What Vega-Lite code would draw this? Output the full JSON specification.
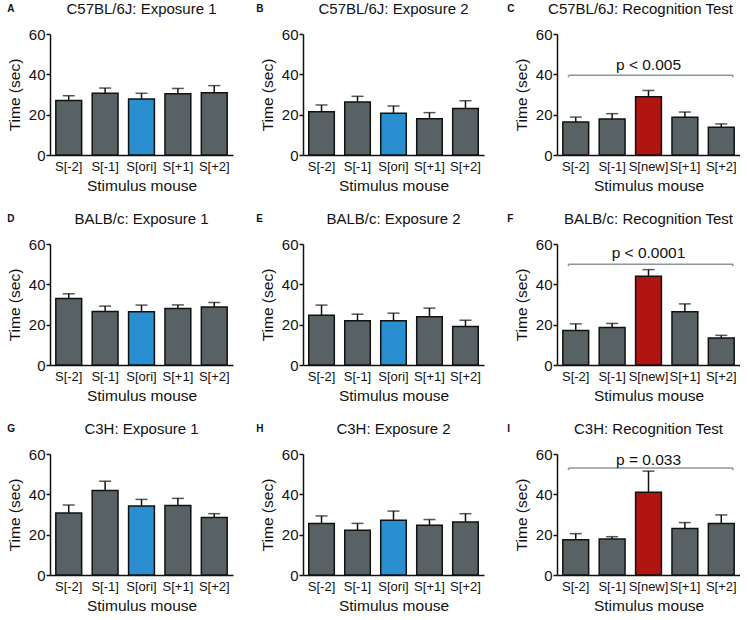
{
  "$schema": "https://vega.github.io/schema/vega-lite/v6.json",
  "padding": {"left": 7, "top": 2, "right": 0, "bottom": 0},
  "spacing": 18,
  "datasets": {
    "bars": [
      {"panel": "A", "stim": "S[-2]", "kind": "ctrl", "value": 27, "upper": 29.4},
      {"panel": "A", "stim": "S[-1]", "kind": "ctrl", "value": 30.6, "upper": 33.2},
      {"panel": "A", "stim": "S[ori]", "kind": "ori", "value": 27.8, "upper": 30.6},
      {"panel": "A", "stim": "S[+1]", "kind": "ctrl", "value": 30.4, "upper": 33},
      {"panel": "A", "stim": "S[+2]", "kind": "ctrl", "value": 30.9, "upper": 34.4},
      {"panel": "B", "stim": "S[-2]", "kind": "ctrl", "value": 21.5, "upper": 24.8},
      {"panel": "B", "stim": "S[-1]", "kind": "ctrl", "value": 26.3, "upper": 29.1},
      {"panel": "B", "stim": "S[ori]", "kind": "ori", "value": 20.7, "upper": 24.3},
      {"panel": "B", "stim": "S[+1]", "kind": "ctrl", "value": 18, "upper": 21},
      {"panel": "B", "stim": "S[+2]", "kind": "ctrl", "value": 23, "upper": 26.9},
      {"panel": "C", "stim": "S[-2]", "kind": "ctrl", "value": 16.4, "upper": 18.8},
      {"panel": "C", "stim": "S[-1]", "kind": "ctrl", "value": 17.9, "upper": 20.5},
      {"panel": "C", "stim": "S[new]", "kind": "new", "value": 28.9, "upper": 32},
      {"panel": "C", "stim": "S[+1]", "kind": "ctrl", "value": 18.7, "upper": 21.3},
      {"panel": "C", "stim": "S[+2]", "kind": "ctrl", "value": 13.7, "upper": 15.4},
      {"panel": "D", "stim": "S[-2]", "kind": "ctrl", "value": 33, "upper": 35.3},
      {"panel": "D", "stim": "S[-1]", "kind": "ctrl", "value": 26.5, "upper": 29.2},
      {"panel": "D", "stim": "S[ori]", "kind": "ori", "value": 26.4, "upper": 29.7},
      {"panel": "D", "stim": "S[+1]", "kind": "ctrl", "value": 28, "upper": 29.8},
      {"panel": "D", "stim": "S[+2]", "kind": "ctrl", "value": 28.7, "upper": 31},
      {"panel": "E", "stim": "S[-2]", "kind": "ctrl", "value": 24.7, "upper": 29.7},
      {"panel": "E", "stim": "S[-1]", "kind": "ctrl", "value": 21.9, "upper": 25.2},
      {"panel": "E", "stim": "S[ori]", "kind": "ori", "value": 21.9, "upper": 25.7},
      {"panel": "E", "stim": "S[+1]", "kind": "ctrl", "value": 23.9, "upper": 28.2},
      {"panel": "E", "stim": "S[+2]", "kind": "ctrl", "value": 19.1, "upper": 22.2},
      {"panel": "F", "stim": "S[-2]", "kind": "ctrl", "value": 17.1, "upper": 20.4},
      {"panel": "F", "stim": "S[-1]", "kind": "ctrl", "value": 18.6, "upper": 20.6},
      {"panel": "F", "stim": "S[new]", "kind": "new", "value": 44, "upper": 47.3},
      {"panel": "F", "stim": "S[+1]", "kind": "ctrl", "value": 26.4, "upper": 30.3},
      {"panel": "F", "stim": "S[+2]", "kind": "ctrl", "value": 13.4, "upper": 14.7},
      {"panel": "G", "stim": "S[-2]", "kind": "ctrl", "value": 30.8, "upper": 34.7},
      {"panel": "G", "stim": "S[-1]", "kind": "ctrl", "value": 41.9, "upper": 46.5},
      {"panel": "G", "stim": "S[ori]", "kind": "ori", "value": 34.2, "upper": 37.5},
      {"panel": "G", "stim": "S[+1]", "kind": "ctrl", "value": 34.5, "upper": 38},
      {"panel": "G", "stim": "S[+2]", "kind": "ctrl", "value": 28.5, "upper": 30.4},
      {"panel": "H", "stim": "S[-2]", "kind": "ctrl", "value": 25.5, "upper": 29.3},
      {"panel": "H", "stim": "S[-1]", "kind": "ctrl", "value": 22.2, "upper": 25.6},
      {"panel": "H", "stim": "S[ori]", "kind": "ori", "value": 27.1, "upper": 31.7},
      {"panel": "H", "stim": "S[+1]", "kind": "ctrl", "value": 24.7, "upper": 27.5},
      {"panel": "H", "stim": "S[+2]", "kind": "ctrl", "value": 26.3, "upper": 30.4},
      {"panel": "I", "stim": "S[-2]", "kind": "ctrl", "value": 17.5, "upper": 20.5},
      {"panel": "I", "stim": "S[-1]", "kind": "ctrl", "value": 17.8, "upper": 19},
      {"panel": "I", "stim": "S[new]", "kind": "new", "value": 41, "upper": 51.5},
      {"panel": "I", "stim": "S[+1]", "kind": "ctrl", "value": 23, "upper": 26},
      {"panel": "I", "stim": "S[+2]", "kind": "ctrl", "value": 25.5, "upper": 29.8}
    ],
    "brackets": [
      {"panel": "C", "from": "S[-2]", "to": "S[+2]", "mid": "S[new]", "y": 39.5, "ytick": 38.5, "ytext": 44.6, "label": "p < 0.005"},
      {"panel": "F", "from": "S[-2]", "to": "S[+2]", "mid": "S[new]", "y": 50, "ytick": 49, "ytext": 55.5, "label": "p < 0.0001"},
      {"panel": "I", "from": "S[-2]", "to": "S[+2]", "mid": "S[new]", "y": 53, "ytick": 52, "ytext": 57, "label": "p = 0.033"}
    ]
  },
  "config": {
    "font": "Liberation Sans",
    "view": {"stroke": null},
    "title": {"fontSize": 15, "fontWeight": "normal", "color": "#111", "offset": 10},
    "axis": {"domainColor": "#111", "domainWidth": 1.5, "tickColor": "#111", "labelColor": "#111", "titleColor": "#111", "grid": false, "titleFontWeight": "normal"},
    "axisX": {"ticks": false, "labelAngle": 0, "labelFontSize": 13, "labelPadding": 5, "titleFontSize": 15.5, "titlePadding": 5, "labelOverlap": false},
    "axisY": {"tickSize": 4, "tickWidth": 1.5, "labelFontSize": 15, "labelPadding": 1, "titleFontSize": 15.5, "titlePadding": 6},
    "scale": {"bandPaddingInner": 0.29, "bandPaddingOuter": 0.16},
    "concat": {"spacing": 23}
  },
  "vconcat": [
    {"hconcat": [
      {"title": {"text": "A", "anchor": "start", "fontSize": 10, "fontWeight": "bold", "offset": -12},
       "hconcat": [{"width": 183, "height": 121, "title": "C57BL/6J: Exposure 1",
        "data": {"name": "bars"}, "transform": [{"filter": "datum.panel === 'A'"}],
        "encoding": {"x": {"field": "stim", "type": "nominal", "scale": {"domain": ["S[-2]", "S[-1]", "S[ori]", "S[+1]", "S[+2]"]}, "title": "Stimulus mouse"}},
        "layer": [
          {"mark": {"type": "bar", "stroke": "#111", "strokeWidth": 1.5},
           "encoding": {"y": {"field": "value", "type": "quantitative", "scale": {"domain": [0, 60], "nice": false}, "axis": {"values": [0, 20, 40, 60]}, "title": "Time (sec)"},
            "color": {"field": "kind", "type": "nominal", "scale": {"domain": ["ctrl", "ori", "new"], "range": ["#586264", "#2a8fd0", "#b01512"]}, "legend": null}}},
          {"mark": {"type": "rule", "color": "#111", "strokeWidth": 1.5}, "encoding": {"y": {"field": "value", "type": "quantitative"}, "y2": {"field": "upper"}}},
          {"mark": {"type": "tick", "color": "#111", "thickness": 1.5, "size": 12}, "encoding": {"y": {"field": "upper", "type": "quantitative"}}}
        ]}]},
      {"title": {"text": "B", "anchor": "start", "fontSize": 10, "fontWeight": "bold", "offset": -12, "dx": -4},
       "hconcat": [{"width": 181, "height": 121, "title": "C57BL/6J: Exposure 2",
        "data": {"name": "bars"}, "transform": [{"filter": "datum.panel === 'B'"}],
        "encoding": {"x": {"field": "stim", "type": "nominal", "scale": {"domain": ["S[-2]", "S[-1]", "S[ori]", "S[+1]", "S[+2]"]}, "title": "Stimulus mouse"}},
        "layer": [
          {"mark": {"type": "bar", "stroke": "#111", "strokeWidth": 1.5},
           "encoding": {"y": {"field": "value", "type": "quantitative", "scale": {"domain": [0, 60], "nice": false}, "axis": {"values": [0, 20, 40, 60]}, "title": "Time (sec)"},
            "color": {"field": "kind", "type": "nominal", "scale": {"domain": ["ctrl", "ori", "new"], "range": ["#586264", "#2a8fd0", "#b01512"]}, "legend": null}}},
          {"mark": {"type": "rule", "color": "#111", "strokeWidth": 1.5}, "encoding": {"y": {"field": "value", "type": "quantitative"}, "y2": {"field": "upper"}}},
          {"mark": {"type": "tick", "color": "#111", "thickness": 1.5, "size": 12}, "encoding": {"y": {"field": "upper", "type": "quantitative"}}}
        ]}]},
      {"title": {"text": "C", "anchor": "start", "fontSize": 10, "fontWeight": "bold", "offset": -12, "dx": -7},
       "hconcat": [{"width": 183, "height": 121, "title": {"text": "C57BL/6J: Recognition Test", "dx": -8},
        "data": {"name": "bars"}, "transform": [{"filter": "datum.panel === 'C'"}],
        "encoding": {"x": {"field": "stim", "type": "nominal", "scale": {"domain": ["S[-2]", "S[-1]", "S[new]", "S[+1]", "S[+2]"]}, "title": "Stimulus mouse"}},
        "layer": [
          {"mark": {"type": "bar", "stroke": "#111", "strokeWidth": 1.5},
           "encoding": {"y": {"field": "value", "type": "quantitative", "scale": {"domain": [0, 60], "nice": false}, "axis": {"values": [0, 20, 40, 60]}, "title": "Time (sec)"},
            "color": {"field": "kind", "type": "nominal", "scale": {"domain": ["ctrl", "ori", "new"], "range": ["#586264", "#2a8fd0", "#b01512"]}, "legend": null}}},
          {"mark": {"type": "rule", "color": "#111", "strokeWidth": 1.5}, "encoding": {"y": {"field": "value", "type": "quantitative"}, "y2": {"field": "upper"}}},
          {"mark": {"type": "tick", "color": "#111", "thickness": 1.5, "size": 12}, "encoding": {"y": {"field": "upper", "type": "quantitative"}}},
          {"data": {"name": "brackets"}, "transform": [{"filter": "datum.panel === 'C'"}],
           "mark": {"type": "rule", "color": "#8c9898", "strokeWidth": 1.5},
           "encoding": {"x": {"field": "from", "type": "nominal", "bandPosition": 0.22, "scale": {"domain": ["S[-2]", "S[-1]", "S[new]", "S[+1]", "S[+2]"]}}, "x2": {"field": "to", "bandPosition": 0.95}, "y": {"field": "y", "type": "quantitative"}}},
          {"data": {"name": "brackets"}, "transform": [{"filter": "datum.panel === 'C'"}],
           "mark": {"type": "rule", "color": "#8c9898", "strokeWidth": 1.5},
           "encoding": {"x": {"field": "from", "type": "nominal", "bandPosition": 0.22, "scale": {"domain": ["S[-2]", "S[-1]", "S[new]", "S[+1]", "S[+2]"]}}, "y": {"field": "y", "type": "quantitative"}, "y2": {"field": "ytick"}}},
          {"data": {"name": "brackets"}, "transform": [{"filter": "datum.panel === 'C'"}],
           "mark": {"type": "rule", "color": "#8c9898", "strokeWidth": 1.5},
           "encoding": {"x": {"field": "to", "type": "nominal", "bandPosition": 0.95, "scale": {"domain": ["S[-2]", "S[-1]", "S[new]", "S[+1]", "S[+2]"]}}, "y": {"field": "y", "type": "quantitative"}, "y2": {"field": "ytick"}}},
          {"data": {"name": "brackets"}, "transform": [{"filter": "datum.panel === 'C'"}],
           "mark": {"type": "text", "fontSize": 15.5, "color": "#111", "baseline": "middle"},
           "encoding": {"x": {"field": "mid", "type": "nominal", "scale": {"domain": ["S[-2]", "S[-1]", "S[new]", "S[+1]", "S[+2]"]}}, "y": {"field": "ytext", "type": "quantitative"}, "text": {"field": "label"}}}
        ]}]}
    ]},
    {"hconcat": [
      {"title": {"text": "D", "anchor": "start", "fontSize": 10, "fontWeight": "bold", "offset": -12},
       "hconcat": [{"width": 183, "height": 121, "title": "BALB/c: Exposure 1",
        "data": {"name": "bars"}, "transform": [{"filter": "datum.panel === 'D'"}],
        "encoding": {"x": {"field": "stim", "type": "nominal", "scale": {"domain": ["S[-2]", "S[-1]", "S[ori]", "S[+1]", "S[+2]"]}, "title": "Stimulus mouse"}},
        "layer": [
          {"mark": {"type": "bar", "stroke": "#111", "strokeWidth": 1.5},
           "encoding": {"y": {"field": "value", "type": "quantitative", "scale": {"domain": [0, 60], "nice": false}, "axis": {"values": [0, 20, 40, 60]}, "title": "Time (sec)"},
            "color": {"field": "kind", "type": "nominal", "scale": {"domain": ["ctrl", "ori", "new"], "range": ["#586264", "#2a8fd0", "#b01512"]}, "legend": null}}},
          {"mark": {"type": "rule", "color": "#111", "strokeWidth": 1.5}, "encoding": {"y": {"field": "value", "type": "quantitative"}, "y2": {"field": "upper"}}},
          {"mark": {"type": "tick", "color": "#111", "thickness": 1.5, "size": 12}, "encoding": {"y": {"field": "upper", "type": "quantitative"}}}
        ]}]},
      {"title": {"text": "E", "anchor": "start", "fontSize": 10, "fontWeight": "bold", "offset": -12, "dx": -4},
       "hconcat": [{"width": 181, "height": 121, "title": "BALB/c: Exposure 2",
        "data": {"name": "bars"}, "transform": [{"filter": "datum.panel === 'E'"}],
        "encoding": {"x": {"field": "stim", "type": "nominal", "scale": {"domain": ["S[-2]", "S[-1]", "S[ori]", "S[+1]", "S[+2]"]}, "title": "Stimulus mouse"}},
        "layer": [
          {"mark": {"type": "bar", "stroke": "#111", "strokeWidth": 1.5},
           "encoding": {"y": {"field": "value", "type": "quantitative", "scale": {"domain": [0, 60], "nice": false}, "axis": {"values": [0, 20, 40, 60]}, "title": "Time (sec)"},
            "color": {"field": "kind", "type": "nominal", "scale": {"domain": ["ctrl", "ori", "new"], "range": ["#586264", "#2a8fd0", "#b01512"]}, "legend": null}}},
          {"mark": {"type": "rule", "color": "#111", "strokeWidth": 1.5}, "encoding": {"y": {"field": "value", "type": "quantitative"}, "y2": {"field": "upper"}}},
          {"mark": {"type": "tick", "color": "#111", "thickness": 1.5, "size": 12}, "encoding": {"y": {"field": "upper", "type": "quantitative"}}}
        ]}]},
      {"title": {"text": "F", "anchor": "start", "fontSize": 10, "fontWeight": "bold", "offset": -12, "dx": -7},
       "hconcat": [{"width": 183, "height": 121, "title": "BALB/c: Recognition Test",
        "data": {"name": "bars"}, "transform": [{"filter": "datum.panel === 'F'"}],
        "encoding": {"x": {"field": "stim", "type": "nominal", "scale": {"domain": ["S[-2]", "S[-1]", "S[new]", "S[+1]", "S[+2]"]}, "title": "Stimulus mouse"}},
        "layer": [
          {"mark": {"type": "bar", "stroke": "#111", "strokeWidth": 1.5},
           "encoding": {"y": {"field": "value", "type": "quantitative", "scale": {"domain": [0, 60], "nice": false}, "axis": {"values": [0, 20, 40, 60]}, "title": "Time (sec)"},
            "color": {"field": "kind", "type": "nominal", "scale": {"domain": ["ctrl", "ori", "new"], "range": ["#586264", "#2a8fd0", "#b01512"]}, "legend": null}}},
          {"mark": {"type": "rule", "color": "#111", "strokeWidth": 1.5}, "encoding": {"y": {"field": "value", "type": "quantitative"}, "y2": {"field": "upper"}}},
          {"mark": {"type": "tick", "color": "#111", "thickness": 1.5, "size": 12}, "encoding": {"y": {"field": "upper", "type": "quantitative"}}},
          {"data": {"name": "brackets"}, "transform": [{"filter": "datum.panel === 'F'"}],
           "mark": {"type": "rule", "color": "#8c9898", "strokeWidth": 1.5},
           "encoding": {"x": {"field": "from", "type": "nominal", "bandPosition": 0.22, "scale": {"domain": ["S[-2]", "S[-1]", "S[new]", "S[+1]", "S[+2]"]}}, "x2": {"field": "to", "bandPosition": 0.95}, "y": {"field": "y", "type": "quantitative"}}},
          {"data": {"name": "brackets"}, "transform": [{"filter": "datum.panel === 'F'"}],
           "mark": {"type": "rule", "color": "#8c9898", "strokeWidth": 1.5},
           "encoding": {"x": {"field": "from", "type": "nominal", "bandPosition": 0.22, "scale": {"domain": ["S[-2]", "S[-1]", "S[new]", "S[+1]", "S[+2]"]}}, "y": {"field": "y", "type": "quantitative"}, "y2": {"field": "ytick"}}},
          {"data": {"name": "brackets"}, "transform": [{"filter": "datum.panel === 'F'"}],
           "mark": {"type": "rule", "color": "#8c9898", "strokeWidth": 1.5},
           "encoding": {"x": {"field": "to", "type": "nominal", "bandPosition": 0.95, "scale": {"domain": ["S[-2]", "S[-1]", "S[new]", "S[+1]", "S[+2]"]}}, "y": {"field": "y", "type": "quantitative"}, "y2": {"field": "ytick"}}},
          {"data": {"name": "brackets"}, "transform": [{"filter": "datum.panel === 'F'"}],
           "mark": {"type": "text", "fontSize": 15.5, "color": "#111", "baseline": "middle"},
           "encoding": {"x": {"field": "mid", "type": "nominal", "scale": {"domain": ["S[-2]", "S[-1]", "S[new]", "S[+1]", "S[+2]"]}}, "y": {"field": "ytext", "type": "quantitative"}, "text": {"field": "label"}}}
        ]}]}
    ]},
    {"hconcat": [
      {"title": {"text": "G", "anchor": "start", "fontSize": 10, "fontWeight": "bold", "offset": -12},
       "hconcat": [{"width": 183, "height": 121, "title": "C3H: Exposure 1",
        "data": {"name": "bars"}, "transform": [{"filter": "datum.panel === 'G'"}],
        "encoding": {"x": {"field": "stim", "type": "nominal", "scale": {"domain": ["S[-2]", "S[-1]", "S[ori]", "S[+1]", "S[+2]"]}, "title": "Stimulus mouse"}},
        "layer": [
          {"mark": {"type": "bar", "stroke": "#111", "strokeWidth": 1.5},
           "encoding": {"y": {"field": "value", "type": "quantitative", "scale": {"domain": [0, 60], "nice": false}, "axis": {"values": [0, 20, 40, 60]}, "title": "Time (sec)"},
            "color": {"field": "kind", "type": "nominal", "scale": {"domain": ["ctrl", "ori", "new"], "range": ["#586264", "#2a8fd0", "#b01512"]}, "legend": null}}},
          {"mark": {"type": "rule", "color": "#111", "strokeWidth": 1.5}, "encoding": {"y": {"field": "value", "type": "quantitative"}, "y2": {"field": "upper"}}},
          {"mark": {"type": "tick", "color": "#111", "thickness": 1.5, "size": 12}, "encoding": {"y": {"field": "upper", "type": "quantitative"}}}
        ]}]},
      {"title": {"text": "H", "anchor": "start", "fontSize": 10, "fontWeight": "bold", "offset": -12, "dx": -4},
       "hconcat": [{"width": 181, "height": 121, "title": "C3H: Exposure 2",
        "data": {"name": "bars"}, "transform": [{"filter": "datum.panel === 'H'"}],
        "encoding": {"x": {"field": "stim", "type": "nominal", "scale": {"domain": ["S[-2]", "S[-1]", "S[ori]", "S[+1]", "S[+2]"]}, "title": "Stimulus mouse"}},
        "layer": [
          {"mark": {"type": "bar", "stroke": "#111", "strokeWidth": 1.5},
           "encoding": {"y": {"field": "value", "type": "quantitative", "scale": {"domain": [0, 60], "nice": false}, "axis": {"values": [0, 20, 40, 60]}, "title": "Time (sec)"},
            "color": {"field": "kind", "type": "nominal", "scale": {"domain": ["ctrl", "ori", "new"], "range": ["#586264", "#2a8fd0", "#b01512"]}, "legend": null}}},
          {"mark": {"type": "rule", "color": "#111", "strokeWidth": 1.5}, "encoding": {"y": {"field": "value", "type": "quantitative"}, "y2": {"field": "upper"}}},
          {"mark": {"type": "tick", "color": "#111", "thickness": 1.5, "size": 12}, "encoding": {"y": {"field": "upper", "type": "quantitative"}}}
        ]}]},
      {"title": {"text": "I", "anchor": "start", "fontSize": 10, "fontWeight": "bold", "offset": -12, "dx": -7},
       "hconcat": [{"width": 183, "height": 121, "title": "C3H: Recognition Test",
        "data": {"name": "bars"}, "transform": [{"filter": "datum.panel === 'I'"}],
        "encoding": {"x": {"field": "stim", "type": "nominal", "scale": {"domain": ["S[-2]", "S[-1]", "S[new]", "S[+1]", "S[+2]"]}, "title": "Stimulus mouse"}},
        "layer": [
          {"mark": {"type": "bar", "stroke": "#111", "strokeWidth": 1.5},
           "encoding": {"y": {"field": "value", "type": "quantitative", "scale": {"domain": [0, 60], "nice": false}, "axis": {"values": [0, 20, 40, 60]}, "title": "Time (sec)"},
            "color": {"field": "kind", "type": "nominal", "scale": {"domain": ["ctrl", "ori", "new"], "range": ["#586264", "#2a8fd0", "#b01512"]}, "legend": null}}},
          {"mark": {"type": "rule", "color": "#111", "strokeWidth": 1.5}, "encoding": {"y": {"field": "value", "type": "quantitative"}, "y2": {"field": "upper"}}},
          {"mark": {"type": "tick", "color": "#111", "thickness": 1.5, "size": 12}, "encoding": {"y": {"field": "upper", "type": "quantitative"}}},
          {"data": {"name": "brackets"}, "transform": [{"filter": "datum.panel === 'I'"}],
           "mark": {"type": "rule", "color": "#8c9898", "strokeWidth": 1.5},
           "encoding": {"x": {"field": "from", "type": "nominal", "bandPosition": 0.22, "scale": {"domain": ["S[-2]", "S[-1]", "S[new]", "S[+1]", "S[+2]"]}}, "x2": {"field": "to", "bandPosition": 0.95}, "y": {"field": "y", "type": "quantitative"}}},
          {"data": {"name": "brackets"}, "transform": [{"filter": "datum.panel === 'I'"}],
           "mark": {"type": "rule", "color": "#8c9898", "strokeWidth": 1.5},
           "encoding": {"x": {"field": "from", "type": "nominal", "bandPosition": 0.22, "scale": {"domain": ["S[-2]", "S[-1]", "S[new]", "S[+1]", "S[+2]"]}}, "y": {"field": "y", "type": "quantitative"}, "y2": {"field": "ytick"}}},
          {"data": {"name": "brackets"}, "transform": [{"filter": "datum.panel === 'I'"}],
           "mark": {"type": "rule", "color": "#8c9898", "strokeWidth": 1.5},
           "encoding": {"x": {"field": "to", "type": "nominal", "bandPosition": 0.95, "scale": {"domain": ["S[-2]", "S[-1]", "S[new]", "S[+1]", "S[+2]"]}}, "y": {"field": "y", "type": "quantitative"}, "y2": {"field": "ytick"}}},
          {"data": {"name": "brackets"}, "transform": [{"filter": "datum.panel === 'I'"}],
           "mark": {"type": "text", "fontSize": 15.5, "color": "#111", "baseline": "middle"},
           "encoding": {"x": {"field": "mid", "type": "nominal", "scale": {"domain": ["S[-2]", "S[-1]", "S[new]", "S[+1]", "S[+2]"]}}, "y": {"field": "ytext", "type": "quantitative"}, "text": {"field": "label"}}}
        ]}]}
    ]}
  ]
}
